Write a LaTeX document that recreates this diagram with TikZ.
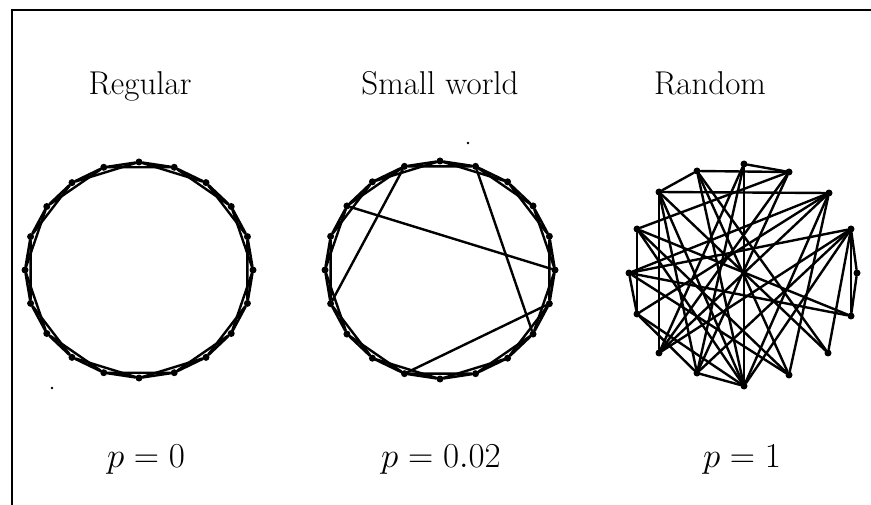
\documentclass[tikz,border=0pt]{standalone}
\usepackage{fix-cm}
\usepackage{amsmath}
\usepackage{tikz}
\usetikzlibrary{positioning}

\begin{document}
\begin{tikzpicture}[x=1pt,y=-1pt]
  \tikzstyle{vertex}=[circle,fill=black,inner sep=0pt,minimum size=7pt]
  \tikzstyle{link}=[line width=2.4pt,line cap=round]
  \tikzstyle{title}=[anchor=base,font=\fontsize{33}{39}\selectfont]
  \tikzstyle{plabel}=[anchor=base,font=\fontsize{35}{41}\selectfont]
  \useasboundingbox (0,0) rectangle (871,505);
  \draw[line width=1.8pt] (12,505) -- (12,10) -- (871,10);
  \fill (52,388) circle (1.4);
  \fill (468,143) circle (1.4);
  % titles and values of p
  \node[title] (regtitle) at (140,95) {Regular};
  \node[title] (swtitle) at (440,95) {Small world};
  \node[title] (rndtitle) at (710,95) {Random};
  \node[plabel] (regp) at (146,467) {$p=0$};
  \node[plabel] (swp) at (441,467) {$p=0.02$};
  \node[plabel] (rndp) at (742,467) {$p=1$};
  % regular ring
  \foreach \i in {0,...,19}
    \node[vertex] (reg\i) at ({139+114*cos(90-18*\i)},{270-108*sin(90-18*\i)}) {};
  \foreach \i in {0,...,19} {
    \pgfmathtruncatemacro\j{mod(\i+1,20)}
    \pgfmathtruncatemacro\k{mod(\i+2,20)}
    \draw[link] (reg\i)--(reg\j) (reg\i)--(reg\k);
  }
  % small world ring
  \foreach \i in {0,...,19}
    \node[vertex] (sw\i) at ({440+115*cos(90-18*\i)},{270-109*sin(90-18*\i)}) {};
  \foreach \i in {0,...,19} {
    \pgfmathtruncatemacro\j{mod(\i+1,20)}
    \pgfmathtruncatemacro\k{mod(\i+2,20)}
    \draw[link] (sw\i)--(sw\j) (sw\i)--(sw\k);
  }
  \draw[link] (sw19)--(sw14);
  \draw[link] (sw17)--(sw5);
  \draw[link] (sw1)--(sw7);
  \draw[link] (sw11)--(sw6);
  % random graph
  \foreach \n/\x/\y in {A/744/164,B/789/172,C/697/171,D/659/192,E/829/193,
      F/637/229,G/851/229,H/629/273,I/857/273,J/637/314,K/851/316,
      L/659/353,M/828/353,N/697/373,O/789/375,P/744/386}
    \node[vertex] (rnd\n) at (\x,\y) {};
  \foreach \a/\b in {D/E,D/L,A/P,G/K,G/I,I/K,A/B,C/B,C/D,F/B,F/J,H/G,
      H/J,H/O,H/K,J/N,J/E,L/B,L/A,L/E,N/P,N/G,N/D,P/D,P/C,P/F,P/E,
      P/G,P/J,O/C,O/E,O/F,M/D,M/C,K/F,E/H,B/N,L/G,N/A,M/G}
    \draw[link] (rnd\a)--(rnd\b);
\end{tikzpicture}
\end{document}
